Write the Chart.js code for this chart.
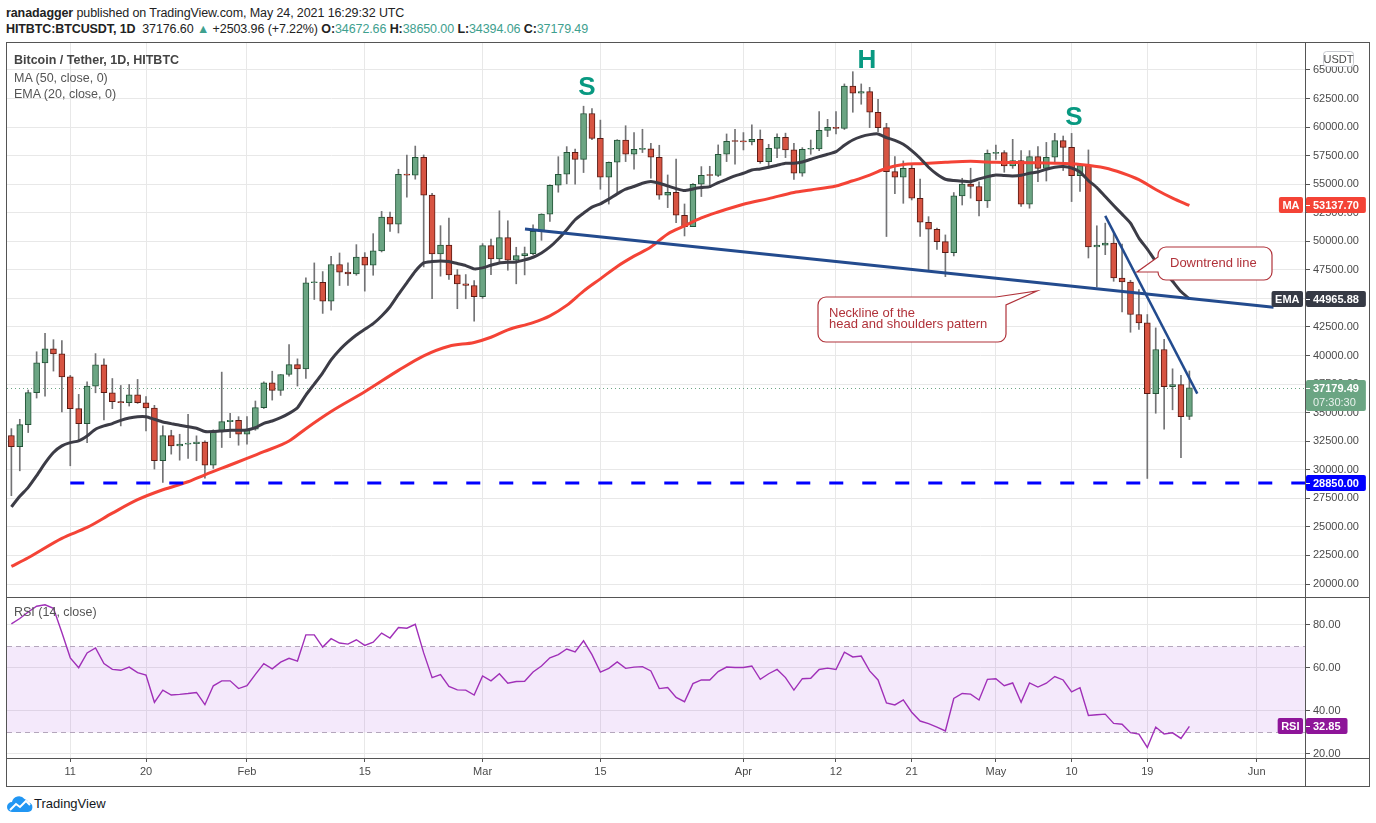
<!DOCTYPE html>
<html><head><meta charset="utf-8">
<script src="https://cdn.jsdelivr.net/npm/chart.js@4.4.1/dist/chart.umd.min.js"></script>
<style>
html,body{margin:0;padding:0;background:#fff;width:1376px;height:823px;overflow:hidden;font-family:"Liberation Sans",Arial,sans-serif;}
canvas{position:absolute;left:0;}
#c1{top:42px;}
#c2{top:597px;}
.t{position:absolute;white-space:nowrap;}
.v{color:#3ea08e;}
.fr{position:absolute;background:#555;z-index:5;}
</style></head><body>
<div class="t" style="left:6px;top:6px;font-size:12.5px;color:#222;letter-spacing:-0.1px"><b>ranadagger</b> published on TradingView.com, May 24, 2021 16:29:32 UTC</div>
<div class="t" style="left:6px;top:22px;font-size:12.5px;color:#222;letter-spacing:-0.1px"><b>HITBTC:BTCUSDT, 1D</b>&nbsp; 37176.60 <span class="v">▲</span> +2503.96 (+7.22%) <b>O:</b><span class="v">34672.66</span> <b>H:</b><span class="v">38650.00</span> <b>L:</b><span class="v">34394.06</span> <b>C:</b><span class="v">37179.49</span></div>

<canvas id="c1" width="1376" height="555"></canvas>
<canvas id="c2" width="1376" height="189"></canvas>

<div class="t" style="left:14px;top:53px;font-size:12.5px;color:#444;font-weight:600;z-index:4">Bitcoin / Tether, 1D, HITBTC</div>
<div class="t" style="left:14px;top:71px;font-size:12.5px;color:#555;z-index:4">MA (50, close, 0)</div>
<div class="t" style="left:14px;top:87px;font-size:12.5px;color:#555;z-index:4">EMA (20, close, 0)</div>
<div class="t" style="left:14px;top:605px;font-size:12.5px;color:#555;z-index:4">RSI (14, close)</div>

<div class="fr" style="left:6px;top:42px;width:1364px;height:1px"></div>
<div class="fr" style="left:6px;top:786px;width:1364px;height:1px"></div>
<div class="fr" style="left:6px;top:42px;width:1px;height:745px"></div>
<div class="fr" style="left:1369px;top:42px;width:1px;height:745px"></div>
<div class="fr" style="left:1305px;top:42px;width:1px;height:745px"></div>
<div class="fr" style="left:6px;top:597px;width:1364px;height:1px"></div>
<div class="fr" style="left:6px;top:758px;width:1364px;height:1px"></div>

<svg width="26" height="18" viewBox="0 0 26 18" style="position:absolute;left:7px;top:795px">
 <path d="M5 17 a5 5 0 0 1 0-10 a7 7 0 0 1 12.5-3 a5.5 5.5 0 0 1 4 3.5 a4.8 4.8 0 0 1-0.5 9.5z" fill="#2196f3"/>
 <polyline points="3,15 9,9 13,12 19,6 23,10" fill="none" stroke="#fff" stroke-width="2"/>
</svg>
<div class="t" style="left:34px;top:796px;font-size:13px;color:#131722;">TradingView</div>

<script>
// Day index: 0 = Jan 1, 2021. First candle = Jan 4, 2021 (day 3), last = May 24, 2021 (day 143)
const startDay = 3;
const opens = [
 33000,32030,33950,36750,39360,40580,40140,38140,35350,34040,
 37330,39190,36740,35960,35870,36570,35870,35410,30790,32990,
 32090,32240,32290,32430,30410,33340,34220,34330,33110,33550,
 35440,37620,36950,38340,39210,38840,46370,46400,44770,47970,
 47300,47150,48630,47910,49160,52120,51510,55870,55800,57360,
 54040,48900,49680,47060,46280,46130,45150,49620,48460,50320,
 48340,48750,48920,50870,52380,54910,55870,57790,57180,61190,
 59010,55610,56920,58870,57620,58050,58100,57360,54030,54290,
 52280,51290,55000,55780,55760,57620,58760,58740,58700,58930,
 56980,58140,59110,58000,55960,58060,58100,59720,59980,59890,
 63600,62960,63100,61300,59950,56100,55610,56390,53770,51670,
 51060,49980,49010,53980,55020,54800,53540,57700,57760,56600,
 57060,53250,57410,56390,57360,58810,58230,55750,56630,49500,
 49670,49850,46790,46440,43590,42860,36660,40530,37280,37450,
 34672.66];
const highs = [
 33600,34420,36980,40330,41950,41390,41310,38260,36600,37700,
 40170,39710,37990,37380,37470,37910,36400,35640,33840,33460,
 33110,34860,32970,32530,33500,38550,34940,34650,34650,36020,
 37700,38630,38340,40960,39710,46800,48110,47350,48690,48980,
 48110,49710,49010,50670,52620,52560,56310,57560,58340,57560,
 54200,51370,52040,47530,47090,46570,49800,50200,52670,51800,
 49480,49500,51450,52410,54950,57410,58290,58080,61830,61630,
 60610,56950,58900,60120,59510,59810,58580,58410,55810,57210,
 53270,55050,56540,56570,58440,59400,59810,59520,60190,59750,
 58490,59400,59470,58580,58200,58870,61350,60680,61350,63780,
 64850,63780,63480,62430,60330,57420,57040,56750,55460,52160,
 51150,50560,54270,55520,56400,55200,58000,58430,57940,58930,
 57940,57940,58290,58660,59450,59220,59450,56830,58000,51360,
 51590,50780,49760,46590,45770,43590,42420,41410,38840,38270,
 38650];
const lows = [
 27730,29910,33260,36280,36450,38640,35060,30350,32620,32380,
 36740,34360,35350,33840,35580,35810,33400,30060,28890,31370,
 30840,31000,30790,29270,30120,31950,32820,32150,32240,33460,
 35360,36100,36510,38200,37330,38000,44910,43690,43980,46130,
 46130,47030,45640,47030,49070,50870,50730,53870,55440,47760,
 44970,46950,46660,44100,44970,43020,45000,47090,48170,47470,
 46280,47060,48840,50090,51740,54300,55030,55000,56020,58900,
 54560,53260,54220,56980,56310,57770,55520,53680,52950,51640,
 50470,51290,53920,54700,55670,56980,56750,58000,58430,56830,
 56390,57330,57330,55430,55700,57620,57930,59170,59400,59790,
 61300,62000,59950,59600,50420,54180,53330,53620,50420,47350,
 49300,46910,48720,53180,53780,52230,52960,57180,56050,56390,
 53050,52900,55230,55280,56860,56200,53480,54360,48540,46000,
 48830,46500,43820,42040,42280,29240,34950,33550,35250,31070,
 34394.06];
const closes = [
 32030,33950,36750,39360,40580,40140,38140,35350,34040,37330,
 39190,36740,35960,35870,36570,35870,35410,30790,32990,32090,
 32240,32290,32430,30410,33340,34220,34330,33110,33550,35440,
 37620,36950,38340,39210,38840,46370,46400,44770,47970,47300,
 47150,48630,47910,49160,52120,51510,55870,55800,57360,54040,
 48900,49680,47060,46280,46130,45150,49620,48460,50320,48340,
 48750,48920,50870,52380,54910,55870,57790,57180,61190,59010,
 55610,56920,58870,57620,58050,58100,57360,54030,54290,52280,
 51290,55000,55780,55760,57620,58760,58740,58700,58930,56980,
 58140,59110,58000,55960,58060,58100,59720,59980,59890,63600,
 62960,63100,61300,59950,56100,55610,56390,53770,51670,51060,
 49980,49010,53980,55020,54800,53540,57700,57760,56600,57060,
 53250,57410,56390,57360,58810,58230,55750,56630,49500,49670,
 49850,46790,46440,43590,42860,36660,40530,37280,37450,34650,
 37179.49];
// EMA(20), one value per candle
const ema20 = [
 26750,27675,28460,29480,30580,31510,32090,32380,32530,32965,
 33546,33837,34040,34330,34535,34650,34650,34420,34186,34040,
 33895,33780,33634,33343,33343,33400,33460,33460,33490,33690,
 34070,34270,34560,34940,35436,36540,37500,38488,39622,40494,
 41192,41802,42296,42790,43460,44273,45350,46366,47384,48110,
 48227,48285,48227,48052,47878,47587,47674,47907,48110,48168,
 48197,48372,48605,48983,49506,50203,51017,51890,52470,52994,
 53285,53692,54157,54564,54800,55082,55228,55082,54849,54615,
 54440,54586,54703,54790,55140,55432,55724,55957,56249,56336,
 56482,56657,56832,56832,56949,57183,57416,57620,57854,58408,
 58874,59166,59341,59400,59078,58845,58495,57941,57270,56482,
 55870,55434,55317,55259,55230,55463,55667,55812,55754,55725,
 55783,55958,56074,56307,56481,56540,56423,56074,55317,54706,
 53920,53135,52378,51593,50283,49323,48246,47373,46500,45600,
 44965.88];
const ma50Days = [3,5,9,12,15,18,21,24,26,29,31,33,36,38,41,45,49,52,55,58,60,62,65,67,69,71,73,75,77,79,81,83,85,87,90,93,96,98,101,103,105,107,109,111,114,117,120,124,127,130,133,135,137,139,141,143];
const ma50Values = [21540,22300,24000,24950,26200,27380,28250,28950,29560,30420,30990,31580,32520,33600,35100,36830,38700,39980,40820,41150,41600,42250,42880,43480,44390,45640,46715,47800,48700,49500,50650,51350,52050,52570,53245,53740,54280,54500,54840,55300,55800,56394,56720,56800,56920,57000,56915,56880,56835,56720,56420,55980,55400,54540,53780,53137.70];
// RSI(14), one value per candle
const rsi14 = [
 80.5,83,86,88.7,89.4,87.7,76.5,64.7,60.1,67,
 69.3,62,59.3,58.9,60.4,57.8,56.7,44,49.7,47.4,
 47.7,48.1,48.6,42.9,51.7,54,54,50.4,51.7,57,
 62,59.6,62.7,64.5,63.2,75.4,75.4,69.7,73.6,71.6,
 71.1,73.1,70.5,72,76.2,73.9,78.8,78.5,80.3,67,
 55.5,56.9,51.4,49.8,49.7,47.4,56.3,54,57.3,52.9,
 53.7,53.8,58.1,60.9,64.7,66.2,68.8,67.4,72.6,66.2,
 58.1,59.8,62.8,59.8,60.4,60.6,58.6,50.4,50.9,46.3,
 44.3,52.7,54.4,54.4,58.3,60.4,60.2,60.2,60.9,54.7,
 57.3,59.3,55.5,49.7,55,55.2,59.3,59.9,59.3,67.3,
 65.1,65.5,58.6,54.4,43.7,42.8,45.1,39.4,35.3,34.1,
 32.5,30.7,45.8,48.1,47.8,45.1,54.7,55,51.7,53,
 44,53,51.1,52.9,56,54.4,48.9,50.8,37.9,38.2,
 38.5,34.2,33.8,29.9,29.2,23,32.5,29.3,29.8,27.2,
 32.85];
const priceTicks = [20000,22500,25000,27500,30000,32500,35000,37500,40000,42500,45000,47500,50000,52500,55000,57500,60000,62500,65000];
const rsiTicks = [20,40,60,80];
const tickDays = [10,19,31,45,59,73,90,101,110,120,129,138,151];
const tickLabels = ['11','20','Feb','15','Mar','15','Apr','12','21','May','10','19','Jun'];
const supportLevel = 28850;
const supportStartDay = 10;
const necklineDays = [64.04, 153];
const necklinePrices = [51076, 44230];
const downtrendDays = [133, 143.94];
const downtrendPrices = [52233, 36664];
const lastPrice = 37179.49, lastCountdown = '07:30:30';
const maLast = 53137.70, emaLast = 44965.88, rsiLast = 32.85;
const xMin = 2.48, xMax = 156.74;
const priceMin = 18862, priceMax = 67450;
const rsiMin = 18.1, rsiMax = 93;

Chart.defaults.font.family = '"Liberation Sans", Arial, sans-serif';

const days = closes.map((_, i) => startDay + i);
const isUp = i => closes[i] >= opens[i];
const bodies = days.map((d, i) => ({x: d, y: [opens[i], closes[i]]}));
const wicks = days.map((d, i) => ({x: d, y: [lows[i], highs[i]]}));

function rr(ctx, x, y, w, h, r) {
  ctx.beginPath();
  ctx.moveTo(x + r, y); ctx.lineTo(x + w - r, y); ctx.arcTo(x + w, y, x + w, y + r, r);
  ctx.lineTo(x + w, y + h - r); ctx.arcTo(x + w, y + h, x + w - r, y + h, r);
  ctx.lineTo(x + r, y + h); ctx.arcTo(x, y + h, x, y + h - r, r);
  ctx.lineTo(x, y + r); ctx.arcTo(x, y, x + r, y, r); ctx.closePath();
}
function drawTag(ctx, yPix, value, fill, label, sub) {
  ctx.save();
  ctx.font = 'bold 11px "Liberation Sans", Arial';
  const w = ctx.measureText(value).width + 14;
  const h = sub ? 31 : 16;
  const x0 = 1306, top = Math.round(yPix) - 8;
  ctx.fillStyle = fill; rr(ctx, x0, top, w, h, 2); ctx.fill();
  ctx.strokeStyle = '#fff'; ctx.lineWidth = 1;
  ctx.beginPath(); ctx.moveTo(x0, Math.round(yPix) + 0.5); ctx.lineTo(x0 + 4, Math.round(yPix) + 0.5); ctx.stroke();
  ctx.fillStyle = '#fff'; ctx.textBaseline = 'middle'; ctx.textAlign = 'left';
  ctx.fillText(value, x0 + 7, top + 8.5);
  if (sub) { ctx.font = '11px "Liberation Sans", Arial'; ctx.fillStyle = 'rgba(255,255,255,0.85)'; ctx.fillText(sub, x0 + 7, top + 22.5); }
  if (label) {
    ctx.font = 'bold 11px "Liberation Sans", Arial';
    const lw = ctx.measureText(label).width + 7;
    ctx.fillStyle = fill; rr(ctx, 1303 - lw, top, lw, 16, 2); ctx.fill();
    ctx.fillStyle = '#fff'; ctx.fillText(label, 1303 - lw + 3.5, top + 8.5);
  }
  ctx.restore();
}

const priceDecor = {
  id: 'priceDecor',
  beforeDatasetsDraw(chart) {
    const {ctx, chartArea: a, scales: {y}} = chart;
    const yy = Math.round(y.getPixelForValue(lastPrice)) + 0.5;
    ctx.save(); ctx.strokeStyle = '#6ba583'; ctx.setLineDash([1, 3]); ctx.lineWidth = 1;
    ctx.beginPath(); ctx.moveTo(a.left, yy); ctx.lineTo(a.right, yy); ctx.stroke(); ctx.restore();
  },
  afterDatasetsDraw(chart) {
    const ctx = chart.ctx;
    ctx.save();
    ctx.fillStyle = '#089981'; ctx.font = 'bold 26px "Liberation Sans", Arial';
    ctx.textAlign = 'center'; ctx.textBaseline = 'middle';
    ctx.fillText('S', 587, 46); ctx.fillText('H', 867, 19); ctx.fillText('S', 1074, 76);
    const col = '#b0323a';
    ctx.lineWidth = 1.2; ctx.strokeStyle = col;
    let x0 = 818, y0 = 255, x1 = 1006, y1 = 300, r = 8;
    ctx.beginPath();
    ctx.moveTo(x0 + r, y0); ctx.lineTo(996, y0); ctx.lineTo(1037, 249); ctx.lineTo(x1, 263);
    ctx.lineTo(x1, y1 - r); ctx.arcTo(x1, y1, x1 - r, y1, r);
    ctx.lineTo(x0 + r, y1); ctx.arcTo(x0, y1, x0, y1 - r, r);
    ctx.lineTo(x0, y0 + r); ctx.arcTo(x0, y0, x0 + r, y0, r); ctx.closePath();
    ctx.fillStyle = '#fff'; ctx.fill(); ctx.stroke();
    ctx.fillStyle = col; ctx.font = '13px "Liberation Sans", Arial'; ctx.textAlign = 'left';
    ctx.fillText('Neckline of the', 829, 271);
    ctx.fillText('head and shoulders pattern', 829, 282.5);
    x0 = 1158; y0 = 205; x1 = 1272; y1 = 238; r = 8;
    ctx.beginPath();
    ctx.moveTo(x0 + r, y0); ctx.lineTo(x1 - r, y0); ctx.arcTo(x1, y0, x1, y0 + r, r);
    ctx.lineTo(x1, y1 - r); ctx.arcTo(x1, y1, x1 - r, y1, r);
    ctx.lineTo(x0 + r, y1); ctx.arcTo(x0, y1, x0, y1 - r, r);
    ctx.lineTo(x0, 230); ctx.lineTo(1137, 230); ctx.lineTo(x0, 215);
    ctx.lineTo(x0, y0 + r); ctx.arcTo(x0, y0, x0 + r, y0, r); ctx.closePath();
    ctx.fillStyle = '#fff'; ctx.fill(); ctx.stroke();
    ctx.fillStyle = col; ctx.fillText('Downtrend line', 1170, 221.5);
    ctx.restore();
  },
  afterDraw(chart) {
    const {ctx, scales: {y}} = chart;
    drawTag(ctx, y.getPixelForValue(maLast), maLast.toFixed(2), '#f44336', 'MA');
    drawTag(ctx, y.getPixelForValue(emaLast), emaLast.toFixed(2), '#363a45', 'EMA');
    drawTag(ctx, y.getPixelForValue(lastPrice), lastPrice.toFixed(2), '#6ba583', null, lastCountdown);
    drawTag(ctx, y.getPixelForValue(supportLevel), supportLevel.toFixed(2), '#0000ff');
    ctx.save();
    ctx.fillStyle = '#fff'; ctx.strokeStyle = '#c8cad0'; ctx.lineWidth = 1;
    rr(ctx, 1323.5, 9.5, 30, 15, 3); ctx.fill(); ctx.stroke();
    ctx.fillStyle = '#4a4a4a'; ctx.font = '11px "Liberation Sans", Arial';
    ctx.textAlign = 'center'; ctx.textBaseline = 'middle'; ctx.fillText('USDT', 1338.5, 17.5);
    ctx.restore();
  }
};

const rsiDecor = {
  id: 'rsiDecor',
  beforeDatasetsDraw(chart) {
    const {ctx, chartArea: a, scales: {y}} = chart;
    const y70 = Math.round(y.getPixelForValue(70)) + 0.5, y30 = Math.round(y.getPixelForValue(30)) + 0.5;
    ctx.save();
    ctx.fillStyle = 'rgba(150,40,220,0.1)';
    ctx.fillRect(a.left, y70, a.right - a.left, y30 - y70);
    ctx.strokeStyle = '#b4a6bc'; ctx.setLineDash([5, 4]); ctx.lineWidth = 1;
    ctx.beginPath(); ctx.moveTo(a.left, y70); ctx.lineTo(a.right, y70);
    ctx.moveTo(a.left, y30); ctx.lineTo(a.right, y30); ctx.stroke();
    ctx.restore();
  },
  afterDraw(chart) {
    drawTag(chart.ctx, chart.scales.y.getPixelForValue(rsiLast), rsiLast.toFixed(2), '#8e1599', 'RSI');
  }
};

const xCommon = {
  type: 'linear', min: xMin, max: xMax, offset: false,
  afterBuildTicks: s => { s.ticks = tickDays.map(v => ({value: v})); },
  grid: {color: '#e8e8e8', offset: false},
  border: {display: false}
};

new Chart(document.getElementById('c1'), {
  type: 'bar',
  data: {
    datasets: [
      {type: 'bar', data: wicks, backgroundColor: '#737375', borderWidth: 0, barThickness: 1, grouped: false, order: 10},
      {type: 'bar', data: bodies,
       backgroundColor: c => isUp(c.dataIndex) ? '#6ba583' : '#d75442',
       borderColor: c => isUp(c.dataIndex) ? '#225437' : '#5b1a13',
       borderWidth: 1, borderSkipped: false, barThickness: 6, minBarLength: 1, grouped: false, order: 9},
      {type: 'line', data: ma50Days.map((d, i) => ({x: d, y: ma50Values[i]})), borderColor: '#f44336', borderWidth: 3, pointRadius: 0, cubicInterpolationMode: 'monotone', order: 5},
      {type: 'line', data: days.map((d, i) => ({x: d, y: ema20[i]})), borderColor: '#3c3c46', borderWidth: 3, pointRadius: 0, tension: 0.2, order: 4},
      {type: 'line', data: [{x: supportStartDay, y: supportLevel}, {x: xMax, y: supportLevel}], borderColor: '#0000ff', borderWidth: 3, borderDash: [14, 19], pointRadius: 0, order: 3},
      {type: 'line', data: necklineDays.map((d, i) => ({x: d, y: necklinePrices[i]})), borderColor: '#234b8e', borderWidth: 3, pointRadius: 0, order: 2},
      {type: 'line', data: downtrendDays.map((d, i) => ({x: d, y: downtrendPrices[i]})), borderColor: '#234b8e', borderWidth: 2.5, pointRadius: 0, order: 1}
    ]
  },
  options: {
    responsive: false, animation: false,
    layout: {padding: {left: 7, right: 7, top: 0, bottom: 0}},
    plugins: {legend: {display: false}, tooltip: {enabled: false}},
    scales: {
      x: Object.assign({}, xCommon, {
        afterFit: s => { s.height = 0; s.paddingLeft = 0; s.paddingRight = 0; },
        ticks: {display: false}, grid: {color: '#e8e8e8', offset: false, drawTicks: false}
      }),
      y: {
        position: 'right', min: priceMin, max: priceMax,
        afterBuildTicks: s => { s.ticks = priceTicks.map(v => ({value: v})); },
        afterFit: s => { s.width = 64; s.paddingTop = 0; s.paddingBottom = 0; },
        ticks: {callback: v => Number(v).toFixed(2), color: '#4a4a4a', font: {size: 11}, padding: 3},
        grid: {color: '#e8e8e8', tickLength: 5, tickColor: '#555'},
        border: {display: false}
      }
    }
  },
  plugins: [priceDecor]
});

new Chart(document.getElementById('c2'), {
  type: 'line',
  data: {
    datasets: [
      {data: days.map((d, i) => ({x: d, y: rsi14[i]})), borderColor: '#a030b8', borderWidth: 1.4, pointRadius: 0, tension: 0}
    ]
  },
  options: {
    responsive: false, animation: false,
    layout: {padding: {left: 7, right: 7, top: 0, bottom: 0}},
    plugins: {legend: {display: false}, tooltip: {enabled: false}},
    scales: {
      x: Object.assign({}, xCommon, {
        afterFit: s => { s.height = 28; s.paddingLeft = 0; s.paddingRight = 0; },
        ticks: {display: true, callback: (v, i) => tickLabels[i], color: '#4a4a4a', font: {size: 11}, padding: 3, maxRotation: 0, autoSkip: false},
        grid: {color: '#e8e8e8', offset: false, tickLength: 4, tickColor: '#555'}
      }),
      y: {
        position: 'right', min: rsiMin, max: rsiMax,
        afterBuildTicks: s => { s.ticks = rsiTicks.map(v => ({value: v})); },
        afterFit: s => { s.width = 64; s.paddingTop = 0; s.paddingBottom = 0; },
        ticks: {callback: v => Number(v).toFixed(2), color: '#4a4a4a', font: {size: 11}, padding: 3},
        grid: {color: '#e8e8e8', tickLength: 5, tickColor: '#555'},
        border: {display: false}
      }
    }
  },
  plugins: [rsiDecor]
});
</script>
</body></html>
